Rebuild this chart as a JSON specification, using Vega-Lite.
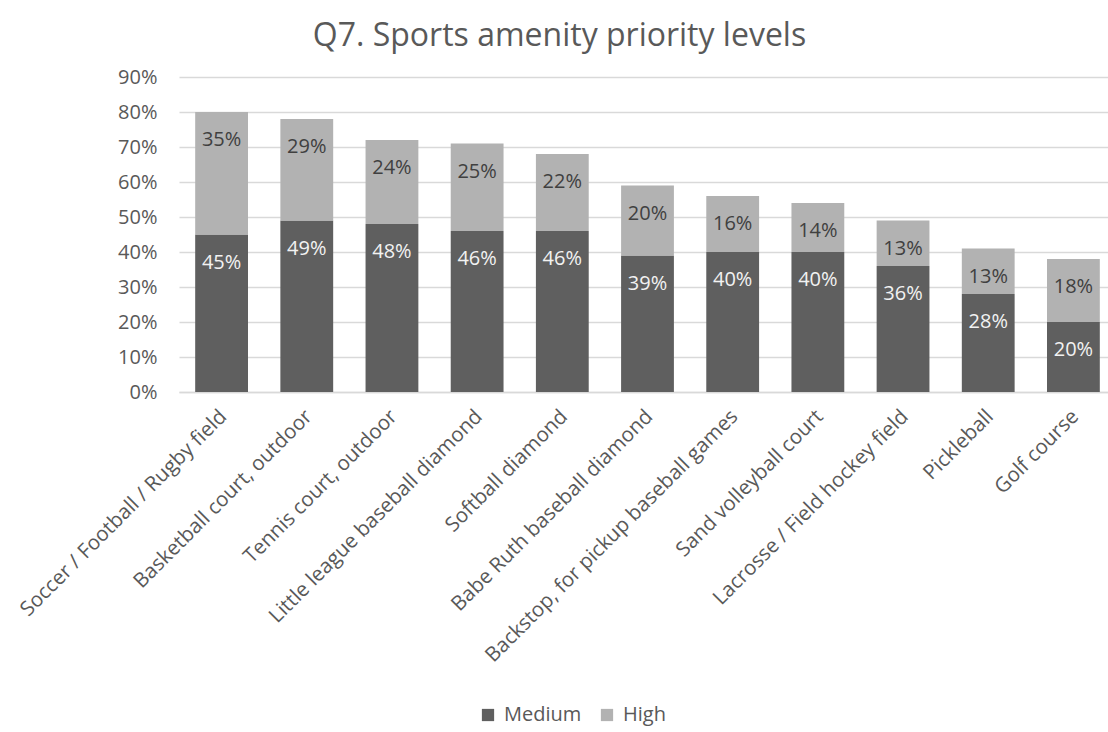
{
  "$schema": "https://vega.github.io/schema/vega-lite/v6.json",
  "autosize": "none",
  "width": 937,
  "height": 315,
  "padding": {"left": 179, "top": 77, "right": 0, "bottom": 340},
  "background": "white",
  "config": {
    "font": "Open Sans",
    "view": {"stroke": null},
    "axis": {"labelColor": "#595959", "labelFontSize": 20, "ticks": false, "titleColor": "#595959"},
    "legend": {"labelColor": "#595959", "labelFontSize": 20}
  },
  "title": {
    "text": "Q7. Sports amenity priority levels",
    "fontSize": 32,
    "fontWeight": "normal",
    "color": "#595959",
    "anchor": "middle",
    "dx": -88,
    "baseline": "alphabetic",
    "offset": -11
  },
  "data": {
    "values": [
      {"amenity": "Soccer / Football / Rugby field", "level": "Medium", "order": 1, "value": 0.45},
      {"amenity": "Soccer / Football / Rugby field", "level": "High", "order": 2, "value": 0.35},
      {"amenity": "Basketball court, outdoor", "level": "Medium", "order": 1, "value": 0.49},
      {"amenity": "Basketball court, outdoor", "level": "High", "order": 2, "value": 0.29},
      {"amenity": "Tennis court, outdoor", "level": "Medium", "order": 1, "value": 0.48},
      {"amenity": "Tennis court, outdoor", "level": "High", "order": 2, "value": 0.24},
      {"amenity": "Little league baseball diamond", "level": "Medium", "order": 1, "value": 0.46},
      {"amenity": "Little league baseball diamond", "level": "High", "order": 2, "value": 0.25},
      {"amenity": "Softball diamond", "level": "Medium", "order": 1, "value": 0.46},
      {"amenity": "Softball diamond", "level": "High", "order": 2, "value": 0.22},
      {"amenity": "Babe Ruth baseball diamond", "level": "Medium", "order": 1, "value": 0.39},
      {"amenity": "Babe Ruth baseball diamond", "level": "High", "order": 2, "value": 0.20},
      {"amenity": "Backstop, for pickup baseball games", "level": "Medium", "order": 1, "value": 0.40},
      {"amenity": "Backstop, for pickup baseball games", "level": "High", "order": 2, "value": 0.16},
      {"amenity": "Sand volleyball court", "level": "Medium", "order": 1, "value": 0.40},
      {"amenity": "Sand volleyball court", "level": "High", "order": 2, "value": 0.14},
      {"amenity": "Lacrosse / Field hockey field", "level": "Medium", "order": 1, "value": 0.36},
      {"amenity": "Lacrosse / Field hockey field", "level": "High", "order": 2, "value": 0.13},
      {"amenity": "Pickleball", "level": "Medium", "order": 1, "value": 0.28},
      {"amenity": "Pickleball", "level": "High", "order": 2, "value": 0.13},
      {"amenity": "Golf course", "level": "Medium", "order": 1, "value": 0.20},
      {"amenity": "Golf course", "level": "High", "order": 2, "value": 0.18}
    ]
  },
  "transform": [
    {"stack": "value", "groupby": ["amenity"], "sort": [{"field": "order", "order": "ascending"}], "as": ["y0", "y1"]}
  ],
  "encoding": {
    "x": {
      "field": "amenity",
      "type": "nominal",
      "sort": null,
      "scale": {"paddingInner": 0.38, "paddingOuter": 0.19},
      "axis": {"title": null, "labelAngle": -45, "labelFontSize": 20.5, "domainColor": "#D9D9D9", "domainWidth": 1.5, "labelPadding": 14, "labelOffset": -5, "labelLimit": 400}
    }
  },
  "layer": [
    {
      "mark": {"type": "bar"},
      "encoding": {
        "y": {
          "field": "y0",
          "type": "quantitative",
          "scale": {"domain": [0, 0.9]},
          "axis": {"title": null, "format": ".0%", "values": [0, 0.1, 0.2, 0.3, 0.4, 0.5, 0.6, 0.7, 0.8, 0.9], "labelOverlap": false, "domain": false, "gridColor": "#D9D9D9", "gridWidth": 1.5, "labelPadding": 22}
        },
        "y2": {"field": "y1"},
        "color": {
          "field": "level",
          "type": "nominal",
          "scale": {"domain": ["Medium", "High"], "range": ["#5F5F5F", "#B2B2B2"]},
          "legend": {"title": null, "orient": "none", "direction": "horizontal", "legendX": 299, "legendY": 628, "symbolType": "square", "symbolSize": 150, "symbolStrokeWidth": 0, "columnPadding": 15, "labelOffset": 6}
        }
      }
    },
    {
      "mark": {"type": "text", "baseline": "middle", "dy": 28, "fontSize": 20},
      "encoding": {
        "y": {
          "field": "y1",
          "type": "quantitative",
          "scale": {"domain": [0, 0.9]},
          "axis": {"title": null, "format": ".0%", "values": [0, 0.1, 0.2, 0.3, 0.4, 0.5, 0.6, 0.7, 0.8, 0.9], "labelOverlap": false, "domain": false, "gridColor": "#D9D9D9", "gridWidth": 1.5, "labelPadding": 22}
        },
        "text": {"field": "value", "type": "quantitative", "format": ".0%"},
        "color": {
          "field": "level",
          "type": "nominal",
          "scale": {"domain": ["Medium", "High"], "range": ["#F2F2F2", "#404040"]},
          "legend": null
        }
      }
    }
  ],
  "resolve": {"scale": {"color": "independent"}}
}
